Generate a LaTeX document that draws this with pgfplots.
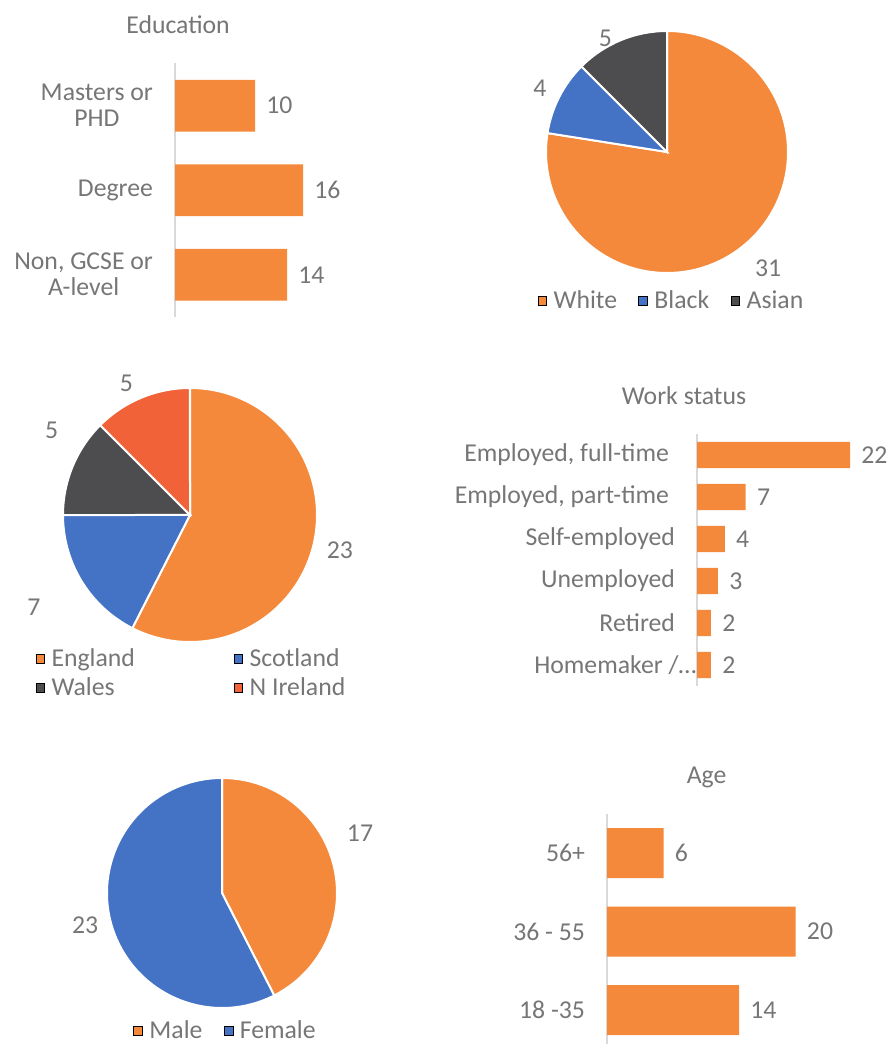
\documentclass[border=0pt]{standalone}
\usepackage{pgfplots}
\pgfplotsset{compat=1.18}
\usepackage{fontspec}
\setmainfont{Carlito}
\definecolor{cOr}{HTML}{F4893B}
\definecolor{cBl}{HTML}{4472C4}
\definecolor{cDk}{HTML}{4D4D4F}
\definecolor{cRd}{HTML}{F26239}
\definecolor{txt}{HTML}{767676}
\definecolor{axl}{HTML}{D9D9D9}
\newcommand\ff{\fontsize{19.3}{19.5}\selectfont}
% pie slice: #1 cumulative value before, #2 value, #3 total, #4 colour, #5 radius
\newcommand\slice[5]{%
  \fill[#4, draw=white, line width=1.5pt] (axis cs:0,0) -- (axis cs:{cos(90-360*#1/#3)},{sin(90-360*#1/#3)})
    arc[start angle={90-360*#1/#3}, end angle={90-360*(#1+#2)/#3}, radius=#5] -- cycle;}
\pgfplotsset{
  sqlegend/.style={legend image code/.code={\fill[##1] (0pt,-3.3pt) rectangle (6.6pt,3.3pt);}},
  piebase/.style={scale only axis, hide axis, clip=false, xmin=-1, xmax=1, ymin=-1, ymax=1,
    anchor=center,
    legend style={draw=none, fill=none, font=\ff, text=txt, legend cell align=left,
      /tikz/every odd column/.append style={column sep=3pt},
      /tikz/every even column/.append style={column sep=14pt}}},
  barbase/.style={scale only axis, anchor=south west, xbar, xmin=0,
    /pgf/number format/assume math mode=true,
    axis x line=none, axis y line*=left, y axis line style={axl, line width=0.8pt},
    ytick style={draw=none}, major tick length=0pt,
    yticklabel style={font=\ff, text=txt, align=center, anchor=east, xshift=-13pt},
    nodes near coords, nodes near coords style={font=\ff, text=txt, anchor=west, xshift=5pt},
    title style={font=\ff, text=txt, anchor=center}},
}
\begin{document}
\begin{tikzpicture}
\useasboundingbox (0,0) rectangle (667.5pt,783pt);
% ---------- Education ----------
\begin{axis}[barbase, at={(131.25pt,545.25pt)}, width=120pt, height=190.125pt,
  xmax=20, ymin=-0.5, ymax=2.5, bar width=0.615,
  ytick={0,1,2}, yticklabels={{Non, GCSE or\\A-level},{Degree},{Masters or\\PHD}},
  title={Education}, title style={at={(0.019,1)}, yshift=23pt}]
\addplot[fill=cOr, draw=none] coordinates {(14,0) (16,1) (10,2)};
\end{axis}
% ---------- Ethnicity pie ----------
\begin{axis}[piebase, at={(500.25pt,669pt)}, width=181.5pt, height=181.5pt,
  legend columns=3, legend style={at={(0.52,-0.116)}, anchor=center}]
\addlegendimage{sqlegend, fill=cOr}\addlegendentry{White}
\addlegendimage{sqlegend, fill=cBl}\addlegendentry{Black}
\addlegendimage{sqlegend, fill=cDk}\addlegendentry{Asian}
\slice{0}{31}{40}{cOr}{90.75pt}
\slice{31}{4}{40}{cBl}{90.75pt}
\slice{35}{5}{40}{cDk}{90.75pt}
\node[font=\ff, text=txt] at (axis cs:0.835,-0.959) {31};
\node[font=\ff, text=txt] at (axis cs:-1.05,0.53) {4};
\node[font=\ff, text=txt] at (axis cs:-0.51,0.94) {5};
\end{axis}
% ---------- Country pie ----------
\begin{axis}[piebase, at={(142.5pt,396.75pt)}, width=190.5pt, height=190.5pt,
  legend columns=2, legend style={at={(-0.125,-0.122)}, anchor=west, /tikz/row sep=3pt,
   /tikz/every even column/.append style={column sep=72pt}}]
\addlegendimage{sqlegend, fill=cOr}\addlegendentry{England}
\addlegendimage{sqlegend, fill=cBl}\addlegendentry{Scotland}
\addlegendimage{sqlegend, fill=cDk}\addlegendentry{Wales}
\addlegendimage{sqlegend, fill=cRd}\addlegendentry{N Ireland}
\slice{0}{23}{40}{cOr}{95.25pt}
\slice{23}{7}{40}{cBl}{95.25pt}
\slice{30}{5}{40}{cDk}{95.25pt}
\slice{35}{5}{40}{cRd}{95.25pt}
\node[font=\ff, text=txt] at (axis cs:1.18,-0.28) {23};
\node[font=\ff, text=txt] at (axis cs:-1.23,-0.73) {7};
\node[font=\ff, text=txt] at (axis cs:-1.09,0.67) {5};
\node[font=\ff, text=txt] at (axis cs:-0.50,1.04) {5};
\end{axis}
% ---------- Work status ----------
\begin{axis}[barbase, at={(522.75pt,268.5pt)}, width=125.2pt, height=189pt,
  xmax=24, ymin=-0.5, ymax=5.5, bar width=0.62,
  ytick={0,1,2,3,4,5},
  yticklabels={{Homemaker /\ldots\hspace{-16pt}},{Retired},{Unemployed},{Self-employed},{Employed, part-time\hspace{4.5pt}},{Employed, full-time\hspace{4.5pt}}},
  title={Work status}, title style={at={(-0.078,1)}, yshift=23pt}]
\addplot[fill=cOr, draw=none] coordinates {(2,0) (2,1) (3,2) (4,3) (7,4) (22,5)};
\end{axis}
% ---------- Gender pie ----------
\begin{axis}[piebase, at={(166.5pt,113.25pt)}, width=172.5pt, height=172.5pt,
  legend columns=2, legend style={at={(0.517,-0.1)}, anchor=center}]
\addlegendimage{sqlegend, fill=cOr}\addlegendentry{Male}
\addlegendimage{sqlegend, fill=cBl}\addlegendentry{Female}
\slice{0}{17}{40}{cOr}{86.25pt}
\slice{17}{23}{40}{cBl}{86.25pt}
\node[font=\ff, text=txt] at (axis cs:1.2,0.52) {17};
\node[font=\ff, text=txt] at (axis cs:-1.19,-0.28) {23};
\end{axis}
% ---------- Age ----------
\begin{axis}[barbase, at={(455.25pt,-3.94pt)}, width=155.6pt, height=176.6pt,
  xmax=22, ymin=-0.5, ymax=2.5, bar width=0.637,
  ytick={0,1,2}, yticklabels={{18 -35},{36 - 55},{56+}},
  title={Age}, title style={at={(0.48,1)}, yshift=21pt}]
\addplot[fill=cOr, draw=none] coordinates {(14,0) (20,1) (6,2)};
\end{axis}
\end{tikzpicture}
\end{document}
